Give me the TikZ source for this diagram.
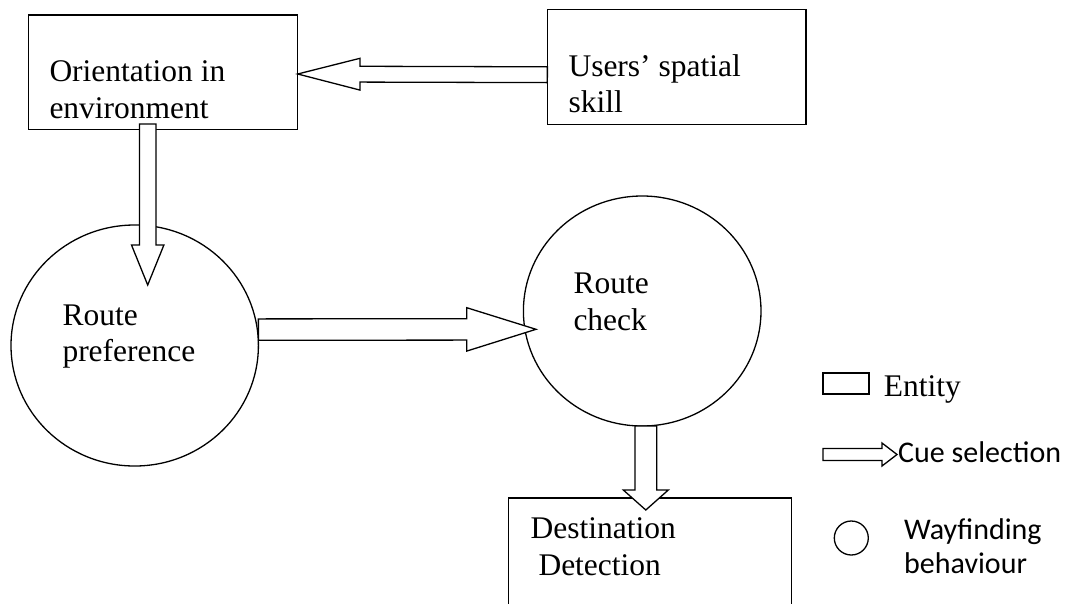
\documentclass[tikz,border=0pt]{standalone}
\usepackage{fontspec}
\setmainfont{Liberation Serif}
\newfontfamily\legendsans{Carlito}
\usetikzlibrary{calc,shapes.geometric}

\tikzset{
  entity/.style={draw, line width=1.3pt, rectangle, inner sep=0pt, outer sep=0pt},
  behaviour/.style={draw, line width=1.3pt, ellipse, inner sep=0pt, outer sep=0pt},
  lbl/.style={anchor=base west, inner sep=0pt, font=\fontsize{31.5}{36}\selectfont},
  sanslbl/.style={anchor=base west, inner sep=0pt, font=\legendsans\fontsize{30}{36}\selectfont},
  % hollow block arrow: #1 shaft half-width, #2 head half-width, #3 head length
  blockarrow/.style n args={3}{draw, line width=1.3pt, line join=miter, fill=white,
    to path={let \p1=(\tikztostart), \p2=(\tikztotarget),
      \n1={atan2(\y2-\y1,\x2-\x1)},
      \n2={veclen(\x2-\x1,\y2-\y1)-#3} in
      ($(\p1)+(\n1+90:#1)$) -- ($(\p1)+(\n1:\n2)+(\n1+90:#1)$)
      -- ($(\p1)+(\n1:\n2)+(\n1+90:#2)$) -- (\p2)
      -- ($(\p1)+(\n1:\n2)+(\n1-90:#2)$) -- ($(\p1)+(\n1:\n2)+(\n1-90:#1)$)
      -- ($(\p1)+(\n1-90:#1)$) -- cycle}}
}

\begin{document}
\begin{tikzpicture}[x=1pt,y=-1pt]
\clip (0,0) rectangle (1070,603);

% entities and wayfinding behaviours
\node[entity, minimum width=269.4pt, minimum height=114.3pt] (orient) at (163,72.2) {};
\node[entity, minimum width=258.7pt, minimum height=115pt] (users) at (676.7,66.8) {};
\node[behaviour, minimum width=247.4pt, minimum height=241pt] (pref) at (134.7,345.5) {};
\node[behaviour, minimum width=237.6pt, minimum height=230pt] (check) at (642.2,311) {};
\node[entity, minimum width=283.4pt, minimum height=142pt] (dest) at (650,569) {};

% labels
\node[lbl] (orient-l1) at (49.3,81.7) {Orientation in};
\node[lbl] (orient-l2) at (49.3,118.3) {environment};
\node[lbl] (users-l1) at (568.3,76.7) {Users’ spatial};
\node[lbl] (users-l2) at (568.3,112.7) {skill};
\node[lbl] (pref-l1) at (62.3,325) {Route};
\node[lbl] (pref-l2) at (62.3,361.7) {preference};
\node[lbl] (check-l1) at (573.3,293.3) {Route};
\node[lbl] (check-l2) at (573.3,330) {check};
\node[lbl] (dest-l1) at (530.5,538.5) {Destination};
\node[lbl] (dest-l2) at (538.3,575.5) {Detection};

% cue selection arrows
\draw[blockarrow={7.9pt}{15.9pt}{62.3pt}] ([yshift=-7.9pt]users.west) to ([yshift=-1.8pt]orient.east);
\draw[blockarrow={8.3pt}{16.2pt}{40pt}] ([xshift=-15.3pt,yshift=5.3pt]orient.south) to ([xshift=13pt,yshift=-60pt]pref.north);
\draw[blockarrow={10.7pt}{21.7pt}{69.3pt}] ([yshift=15.9pt]pref.east) to ([xshift=12.6pt,yshift=-18.3pt]check.west);
\draw[blockarrow={10.9pt}{22.5pt}{20pt}] ([xshift=3.6pt]check.south) to ([xshift=-4.2pt,yshift=-12pt]dest.north);

% key
\node[entity, minimum width=46pt, minimum height=21pt] (key-entity) at (846,383.5) {};
\node[lbl] (key-entity-l) at (883.6,396.7) {Entity};
\coordinate (key-tail) at (823,454.5);
\coordinate (key-tip) at (897,454.5);
\draw[blockarrow={6pt}{11.5pt}{15pt}] (key-tail) to (key-tip);
\node[sanslbl] (key-cue-l) at (898,462) {Cue selection};
\node[behaviour, minimum width=34pt, minimum height=34pt] (key-circle) at (851.3,538) {};
\node[sanslbl] (key-way-l1) at (904,539) {Wayfinding};
\node[sanslbl] (key-way-l2) at (904,573.5) {behaviour};
\end{tikzpicture}
\end{document}
